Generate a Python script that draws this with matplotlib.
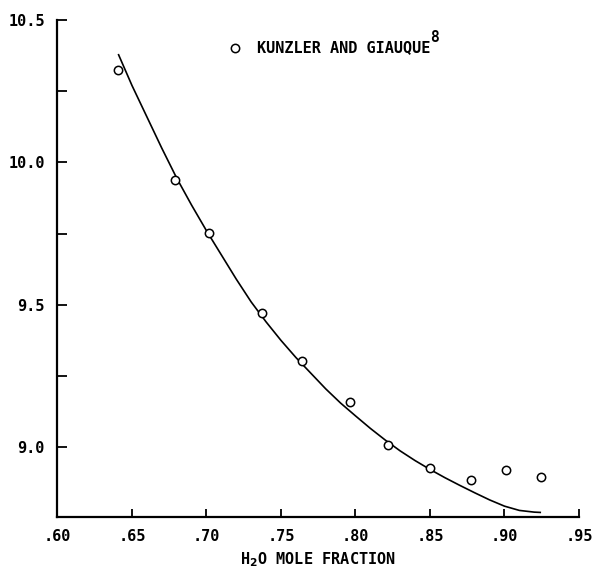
import numpy as np
import matplotlib
matplotlib.use("Agg")
import matplotlib.pyplot as plt
from matplotlib.ticker import FixedLocator

# measured points (Kunzler and Giauque)
x_pts = [0.6406, 0.6789, 0.7017, 0.7372, 0.7641, 0.7963, 0.8218, 0.8500, 0.8775, 0.9010, 0.9245]
y_pts = [10.326, 9.937, 9.751, 9.470, 9.302, 9.158, 9.007, 8.926, 8.884, 8.919, 8.895]

# fitted curve
x_curve = [0.641, 0.650, 0.660, 0.670, 0.680, 0.690, 0.700, 0.710, 0.720, 0.730,
           0.740, 0.750, 0.760, 0.770, 0.780, 0.790, 0.800, 0.810, 0.820, 0.830,
           0.840, 0.850, 0.860, 0.870, 0.880, 0.890, 0.900, 0.910, 0.920, 0.924]
y_curve = [10.378, 10.27, 10.16, 10.05, 9.945, 9.85, 9.76, 9.675, 9.59, 9.51,
           9.44, 9.375, 9.315, 9.26, 9.205, 9.155, 9.11, 9.066, 9.025, 8.987,
           8.953, 8.922, 8.893, 8.866, 8.840, 8.815, 8.793, 8.778, 8.772, 8.771]

x_ticks = [0.60, 0.65, 0.70, 0.75, 0.80, 0.85, 0.90, 0.95]
x_labels = [".60", ".65", ".70", ".75", ".80", ".85", ".90", ".95"]
y_ticks = [9.0, 9.5, 10.0, 10.5]
y_labels = ["9.0", "9.5", "10.0", "10.5"]
y_minor = [9.25, 9.75, 10.25]

plt.rcParams['font.family'] = ['DejaVu Sans Mono', 'DejaVu Sans']
plt.rcParams['font.weight'] = 'bold'
plt.rcParams['axes.labelweight'] = 'bold'
plt.rcParams['mathtext.default'] = 'bf'

fig = plt.figure(figsize=(5.94, 5.72), dpi=100)
ax = fig.add_axes([0.0968, 0.0962, 0.8779, 0.8688])

ax.plot(x_curve, y_curve, color='black', lw=1.2)
ax.plot(x_pts, y_pts, 'o', mfc='white', mec='black', ms=6, mew=1.1)

ax.set_xlim(0.60, 0.95)
ax.set_ylim(8.755, 10.5)

ax.spines['top'].set_visible(False)
ax.spines['right'].set_visible(False)
for s in ['left', 'bottom']:
    ax.spines[s].set_linewidth(1.6)

ax.set_xticks(x_ticks)
ax.set_xticklabels(x_labels)
ax.set_yticks(y_ticks)
ax.set_yticklabels(y_labels)
ax.yaxis.set_minor_locator(FixedLocator(y_minor))
ax.tick_params(axis='both', which='both', direction='in', width=1.3, labelsize=11)
ax.tick_params(axis='x', length=6, pad=9)
ax.tick_params(axis='y', length=7, pad=9)
ax.tick_params(axis='y', which='minor', length=7)

ax.set_xlabel("H$_2$O MOLE FRACTION", fontsize=11, fontweight='bold', labelpad=4)

# legend entry
ax.plot([0.7193], [10.40], 'o', mfc='white', mec='black', ms=6, mew=1.1)
t = ax.text(0.7339, 10.405, "KUNZLER AND GIAUQUE", fontsize=11, va='center', ha='left')
ax.annotate("8", xy=(1, 0.5), xycoords=t, xytext=(-0.5, 7), textcoords='offset points',
            fontsize=10.5, va='center', ha='left')

fig.savefig("out.png", dpi=100)
